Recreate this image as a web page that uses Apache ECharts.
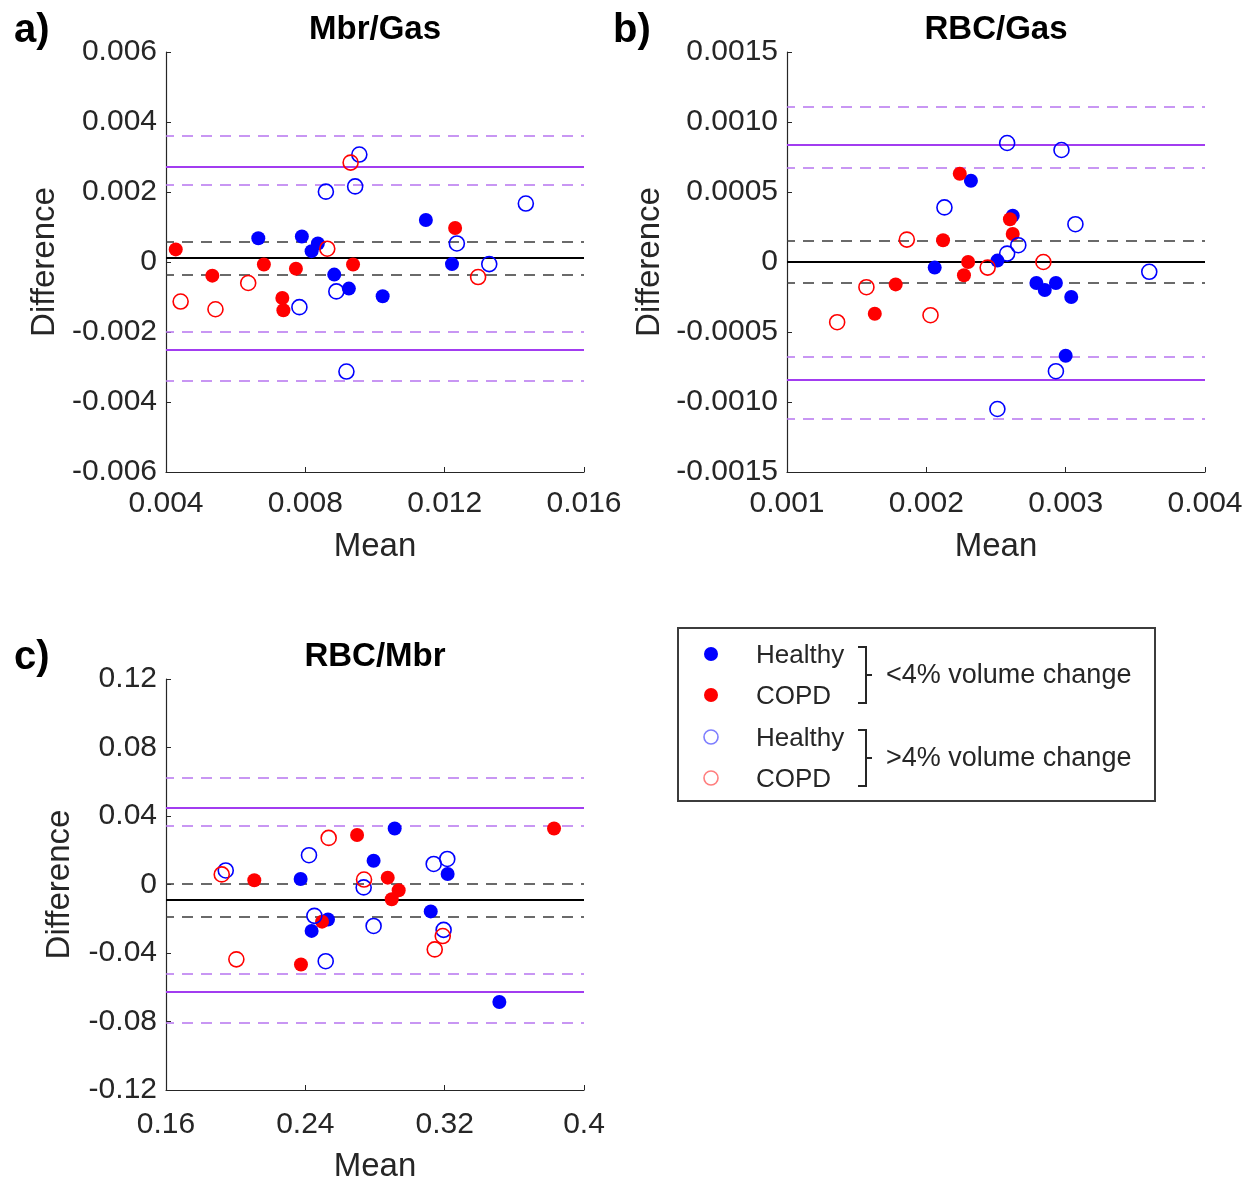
<!DOCTYPE html>
<html>
<head>
<meta charset="utf-8">
<script src="https://cdn.jsdelivr.net/npm/echarts@6/dist/echarts.min.js"></script>
<style>
  html, body { margin: 0; padding: 0; background: #ffffff; }
  #chart { width: 1252px; height: 1184px; }
</style>
</head>
<body>
<div id="chart"></div>
<script>
// ---------- a) Mbr/Gas : [mean, difference] ----------
const mbrGasHealthyLow = [[0.00665, 0.00068], [0.0079, 0.00073], [0.00836, 0.00053], [0.00818, 0.00031],
  [0.00883, -0.00036], [0.00925, -0.00076], [0.01022, -0.00098], [0.01146, 0.0012], [0.01221, -0.00006]];
const mbrGasCopdLow = [[0.00428, 0.00036], [0.00533, -0.00039], [0.00681, -0.00007], [0.00734, -0.00103],
  [0.00737, -0.00138], [0.00773, -0.00019], [0.00937, -0.00007], [0.0123, 0.00097]];
const mbrGasHealthyHigh = [[0.00955, 0.00307], [0.00943, 0.00216], [0.00859, 0.00201], [0.01433, 0.00167],
  [0.01235, 0.00053], [0.01328, -0.00006], [0.00889, -0.00084], [0.00783, -0.00129], [0.00918, -0.00313]];
const mbrGasCopdHigh = [[0.0093, 0.00284], [0.00863, 0.00038], [0.00636, -0.0006], [0.00442, -0.00113],
  [0.00542, -0.00135], [0.01296, -0.00043]];
const mbrGasBias = 0.00011;
const mbrGasBiasCI = [-0.00036, 0.00057];
const mbrGasLoA = [-0.00252, 0.00273];
const mbrGasLoACI = [-0.00338, -0.0020, 0.00221, 0.0036];
const mbrGasXTicks = ['0.004', '0.008', '0.012', '0.016'];
const mbrGasYTicks = ['-0.006', '-0.004', '-0.002', '0', '0.002', '0.004', '0.006'];

// ---------- b) RBC/Gas ----------
const rbcGasHealthyLow = [[0.00232, 0.00058], [0.00262, 0.00033], [0.00206, -0.00004], [0.00251, 0.00001],
  [0.00279, -0.00015], [0.00285, -0.0002], [0.00293, -0.00015], [0.00304, -0.00025], [0.003, -0.00067]];
const rbcGasCopdLow = [[0.00224, 0.00063], [0.0026, 0.000305], [0.00262, 0.0002], [0.00212, 0.000155],
  [0.0023, 0.0], [0.00227, -0.000095], [0.00178, -0.00016], [0.00163, -0.00037]];
const rbcGasHealthyHigh = [[0.00258, 0.00085], [0.00297, 0.0008], [0.00213, 0.00039], [0.00307, 0.00027],
  [0.00266, 0.00012], [0.00258, 0.00006], [0.0036, -0.00007], [0.00293, -0.00078], [0.00251, -0.00105]];
const rbcGasCopdHigh = [[0.00186, 0.00016], [0.00157, -0.00018], [0.00136, -0.00043], [0.00203, -0.00038],
  [0.00244, -0.00004], [0.00284, 0.0]];
const rbcGasBias = 0.0;
const rbcGasBiasCI = [-0.00015, 0.00015];
const rbcGasLoA = [-0.00084, 0.00084];
const rbcGasLoACI = [-0.00112, -0.00068, 0.00067, 0.00111];
const rbcGasXTicks = ['0.001', '0.002', '0.003', '0.004'];
const rbcGasYTicks = ['-0.0015', '-0.0010', '-0.0005', '0', '0.0005', '0.0010', '0.0015'];

// ---------- c) RBC/Mbr ----------
const rbcMbrHealthyLow = [[0.2913, 0.0327], [0.2792, 0.0139], [0.2373, 0.0032], [0.3217, 0.0061],
  [0.312, -0.0157], [0.253, -0.0204], [0.2436, -0.0271], [0.3514, -0.0686]];
const rbcMbrCopdLow = [[0.2107, 0.0025], [0.2697, 0.0289], [0.2873, 0.004], [0.2936, -0.0034],
  [0.2896, -0.0086], [0.2496, -0.0217], [0.2375, -0.0467], [0.3828, 0.0327]];
const rbcMbrHealthyHigh = [[0.1943, 0.0082], [0.2421, 0.0171], [0.3137, 0.012], [0.3215, 0.0149],
  [0.2735, -0.0017], [0.2452, -0.0183], [0.2792, -0.0242], [0.3194, -0.0265], [0.2517, -0.0448]];
const rbcMbrCopdHigh = [[0.192, 0.0059], [0.2534, 0.0272], [0.2737, 0.0029], [0.2004, -0.0437],
  [0.3189, -0.0301], [0.3143, -0.0379]];
const rbcMbrBias = -0.0088;
const rbcMbrBiasCI = [-0.0189, 0.0006];
const rbcMbrLoA = [-0.0629, 0.0451];
const rbcMbrLoACI = [-0.0806, -0.0524, 0.0343, 0.0626];
const rbcMbrXTicks = ['0.16', '0.24', '0.32', '0.4'];
const rbcMbrYTicks = ['-0.12', '-0.08', '-0.04', '0', '0.04', '0.08', '0.12'];

// ---------- styling ----------
const INK = '#262626';
const BLUE = '#0000ff';
const RED = '#ff0000';
const PURPLE = '#a23cf0';
const PURPLE_LIGHT = '#b774f0';
const FONT = 'Arial, "Liberation Sans", sans-serif';

const panels = [
  { title: 'Mbr/Gas', tag: 'a)', tagX: 14, grid: { left: 166, top: 52, width: 418, height: 420 },
    x: { min: 0.004, max: 0.016, interval: 0.004, labels: mbrGasXTicks },
    y: { min: -0.006, max: 0.006, interval: 0.002, labels: mbrGasYTicks },
    yNameGap: 105, xNameGap: 58, xLabelMargin: 17,
    groups: [mbrGasHealthyLow, mbrGasCopdLow, mbrGasHealthyHigh, mbrGasCopdHigh],
    bias: mbrGasBias, biasCI: mbrGasBiasCI, loa: mbrGasLoA, loaCI: mbrGasLoACI },
  { title: 'RBC/Gas', tag: 'b)', tagX: 613, grid: { left: 787, top: 52, width: 418, height: 420 },
    x: { min: 0.001, max: 0.004, interval: 0.001, labels: rbcGasXTicks },
    y: { min: -0.0015, max: 0.0015, interval: 0.0005, labels: rbcGasYTicks },
    yNameGap: 121, xNameGap: 58, xLabelMargin: 17,
    groups: [rbcGasHealthyLow, rbcGasCopdLow, rbcGasHealthyHigh, rbcGasCopdHigh],
    bias: rbcGasBias, biasCI: rbcGasBiasCI, loa: rbcGasLoA, loaCI: rbcGasLoACI },
  { title: 'RBC/Mbr', tag: 'c)', tagX: 14, grid: { left: 166, top: 679, width: 418, height: 419 },
    x: { min: 0.16, max: 0.4, interval: 0.08, labels: rbcMbrXTicks },
    y: { min: -0.12, max: 0.12, interval: 0.04, labels: rbcMbrYTicks },
    yNameGap: 90, xNameGap: 60, xLabelMargin: 20,
    groups: [rbcMbrHealthyLow, rbcMbrCopdLow, rbcMbrHealthyHigh, rbcMbrCopdHigh],
    bias: rbcMbrBias, biasCI: rbcMbrBiasCI, loa: rbcMbrLoA, loaCI: rbcMbrLoACI }
];

const axisCommon = {
  type: 'value',
  splitLine: { show: false },
  axisLine: { show: true, onZero: false, lineStyle: { color: INK, width: 1.2 } },
  axisTick: { show: true, inside: true, length: 5, lineStyle: { color: INK, width: 1 } },
  nameLocation: 'middle',
  nameTextStyle: { color: INK, fontSize: 33, fontFamily: FONT }
};

const grids = [], xAxes = [], yAxes = [], series = [], graphics = [];

// marker looks for the four groups: filled = <4% change, open = >4% change
const groupStyles = [
  { symbolSize: 14, itemStyle: { color: BLUE, opacity: 1 } },
  { symbolSize: 14, itemStyle: { color: RED, opacity: 1 } },
  { symbolSize: 15, itemStyle: { color: 'rgba(0,0,0,0)', borderColor: BLUE, borderWidth: 1.6, opacity: 1 } },
  { symbolSize: 15, itemStyle: { color: 'rgba(0,0,0,0)', borderColor: RED, borderWidth: 1.6, opacity: 1 } }
];

panels.forEach((p, i) => {
  grids.push(Object.assign({ containLabel: false }, p.grid));
  xAxes.push(Object.assign({}, axisCommon, {
    gridIndex: i, min: p.x.min, max: p.x.max, interval: p.x.interval,
    name: 'Mean', nameGap: p.xNameGap,
    axisLabel: { color: INK, fontSize: 30, fontFamily: FONT, margin: p.xLabelMargin,
      formatter: (v, idx) => p.x.labels[idx] }
  }));
  yAxes.push(Object.assign({}, axisCommon, {
    gridIndex: i, min: p.y.min, max: p.y.max, interval: p.y.interval,
    name: 'Difference', nameGap: p.yNameGap,
    axisLabel: { color: INK, fontSize: 30, fontFamily: FONT, margin: 9,
      formatter: (v, idx) => p.y.labels[idx] }
  }));

  // bias, limits of agreement and their confidence bounds
  const solidBlack = { color: '#000000', width: 2, type: 'solid' };
  const dashBlack = { color: '#3a3a3a', width: 1.5, type: [11, 8], dashOffset: 3 };
  const solidPurple = { color: PURPLE, width: 2, type: 'solid' };
  const dashPurple = { color: PURPLE_LIGHT, width: 1.5, type: [11, 8], dashOffset: 3 };
  const lines = [
    { yAxis: p.bias, lineStyle: solidBlack },
    { yAxis: p.biasCI[0], lineStyle: dashBlack },
    { yAxis: p.biasCI[1], lineStyle: dashBlack },
    { yAxis: p.loa[0], lineStyle: solidPurple },
    { yAxis: p.loa[1], lineStyle: solidPurple }
  ].concat(p.loaCI.map(v => ({ yAxis: v, lineStyle: dashPurple })));

  series.push({
    type: 'scatter', xAxisIndex: i, yAxisIndex: i, data: [], z: 1, silent: true,
    markLine: { silent: true, precision: 8, symbol: ['none', 'none'], label: { show: false },
      animation: false, data: lines }
  });

  p.groups.forEach((g, k) => {
    series.push(Object.assign({
      type: 'scatter', xAxisIndex: i, yAxisIndex: i, data: g, z: 10,
      symbol: 'circle', animation: false
    }, JSON.parse(JSON.stringify(groupStyles[k]))));
  });

  const cx = p.grid.left + p.grid.width / 2;
  graphics.push({ type: 'text', x: cx, y: p.grid.top - 22,
    style: { text: p.title, font: 'bold 33px ' + FONT, fill: '#000', align: 'center', verticalAlign: 'middle' } });
  graphics.push({ type: 'text', x: p.tagX, y: p.grid.top - 21,
    style: { text: p.tag, font: 'bold 40px ' + FONT, fill: '#000', align: 'left', verticalAlign: 'middle' } });
});

// legend box with grouping brackets
const legendEntries = [
  { y: 654, label: 'Healthy', fill: BLUE, stroke: null },
  { y: 695, label: 'COPD', fill: RED, stroke: null },
  { y: 737, label: 'Healthy', fill: null, stroke: 'rgba(40,40,255,0.6)' },
  { y: 778, label: 'COPD', fill: null, stroke: 'rgba(255,40,40,0.6)' }
];
const legendGroups = [
  { top: 647, bottom: 703, text: '<4% volume change' },
  { top: 730, bottom: 786, text: '>4% volume change' }
];
graphics.push({ type: 'rect', shape: { x: 678, y: 628, width: 477, height: 173 },
  style: { fill: '#fff', stroke: '#3c3c3c', lineWidth: 2 }, z: 20 });
legendEntries.forEach(e => {
  graphics.push({ type: 'circle', shape: { cx: 711, cy: e.y, r: 7 },
    style: e.fill ? { fill: e.fill } : { fill: 'none', stroke: e.stroke, lineWidth: 1.6 }, z: 21 });
  graphics.push({ type: 'text', x: 756, y: e.y + 2,
    style: { text: e.label, font: '26px ' + FONT, fill: INK, align: 'left', verticalAlign: 'middle' }, z: 21 });
});
legendGroups.forEach(gp => {
  const mid = (gp.top + gp.bottom) / 2;
  graphics.push({ type: 'polyline', shape: { points: [[858, gp.top], [866, gp.top], [866, gp.bottom], [858, gp.bottom]] },
    style: { stroke: INK, lineWidth: 2, fill: null }, z: 21 });
  graphics.push({ type: 'line', shape: { x1: 866, y1: mid, x2: 872, y2: mid },
    style: { stroke: INK, lineWidth: 2 }, z: 21 });
  graphics.push({ type: 'text', x: 886, y: mid + 1,
    style: { text: gp.text, font: '27px ' + FONT, fill: INK, align: 'left', verticalAlign: 'middle' }, z: 21 });
});

const chart = echarts.init(document.getElementById('chart'), null, { renderer: 'canvas' });
chart.setOption({
  backgroundColor: '#ffffff',
  animation: false,
  grid: grids,
  xAxis: xAxes,
  yAxis: yAxes,
  series: series,
  graphic: graphics
});
</script>
</body>
</html>
